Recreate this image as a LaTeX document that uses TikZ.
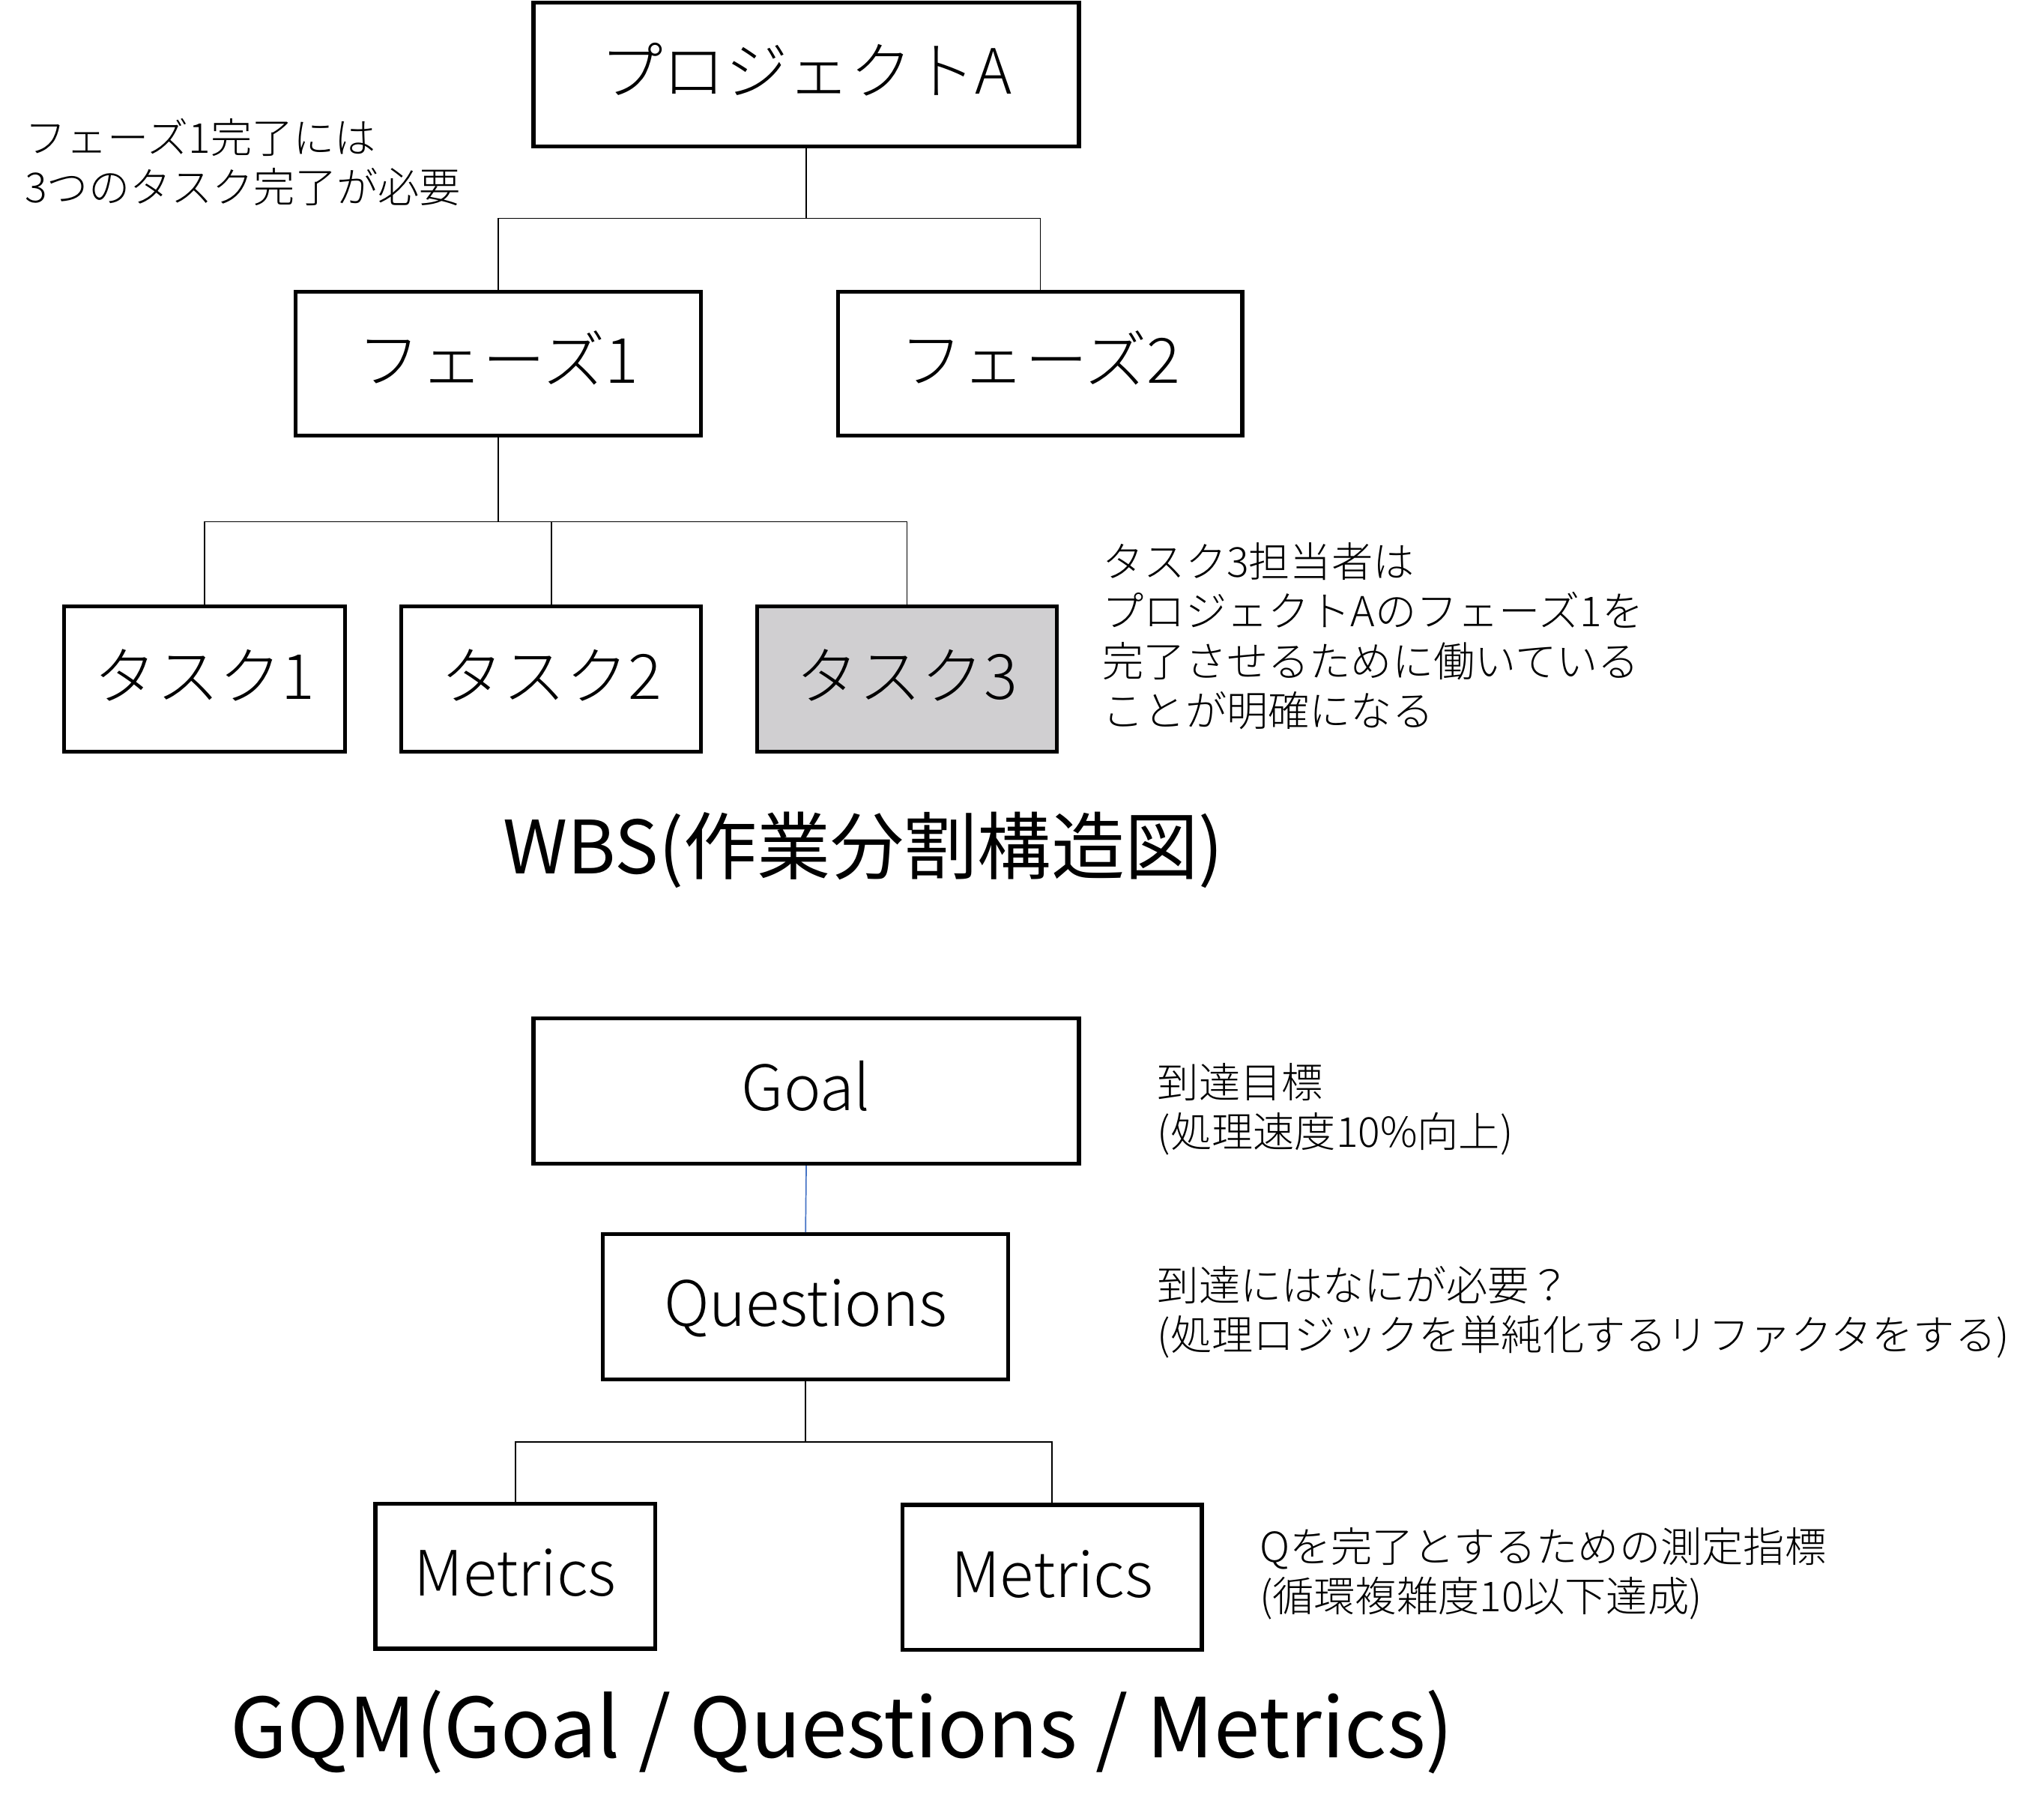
\documentclass[tikz,border=0pt]{standalone}
\usepackage{fontspec}
\setmainfont{Noto Sans CJK JP}[UprightFont=* Light]
\newfontfamily\titlefont{Noto Sans CJK JP}
\usepackage{tikz}

\definecolor{taskgray}{HTML}{D0CFD1}
\definecolor{linkblue}{HTML}{4472C4}
\newcommand{\boxfont}{\fontsize{68pt}{80pt}\selectfont}
\newcommand{\notefont}{\fontsize{45pt}{54pt}\selectfont}

\begin{document}
\begin{tikzpicture}[x=0.5mm,y=-0.5mm,
    wbsbox/.style={draw,line width=4.3pt,inner sep=0pt,minimum height=55mm,
      text height=50pt,text depth=7pt,font=\boxfont},
    notetext/.style={anchor=west,inner sep=0pt,align=left,font=\notefont},
    titletext/.style={inner sep=0pt},
    link/.style={line width=1.4pt}]
\useasboundingbox (0,0) rectangle (1563,1388.2);
% WBS
\node[wbsbox,minimum width=208.5mm] (proj) at (616.5,57) {プロジェクトA};
\node[wbsbox,minimum width=155mm] (ph1) at (381,278) {フェーズ1};
\node[wbsbox,minimum width=154.5mm] (ph2) at (795.5,278) {フェーズ2};
\node[wbsbox,minimum width=107.5mm,minimum height=55.5mm] (t1) at (156.5,519.5) {タスク1};
\node[wbsbox,minimum width=114.5mm,minimum height=55.5mm] (t2) at (421.5,519.5) {タスク2};
\node[wbsbox,minimum width=114.5mm,minimum height=55.5mm,fill=taskgray] (t3) at (693.5,519.5) {タスク3};
\coordinate (busA) at (616.5,167);
\coordinate (busB) at (381,399);
\draw[link] (proj.south) -- (busA);
\draw[link] (ph1.north) |- (busA) -| (ph2.north);
\draw[line width=2.2pt] (ph1.south) -- (busB);
\draw[link] (t1.north) |- (busB) -| (t3.north);
\draw[link] (t2.north) -- (t2.north |- busB);
\node[notetext] (noteph) at (19,124) {フェーズ1完了には\\3つのタスク完了が必要};
\node[notetext] (notetask) at (843,486.5) {タスク3担当者は\\プロジェクトAのフェーズ1を\\完了させるために働いている\\ことが明確になる};
\node[titletext,font=\titlefont\fontsize{80pt}{96pt}\selectfont] (wbstitle) at (660,650) {WBS(作業分割構造図)};
% GQM
\node[wbsbox,minimum width=208.5mm,minimum height=55.5mm] (goal) at (616.5,834.5) {Goal};
\node[wbsbox,minimum width=155mm,minimum height=55.5mm] (quest) at (616,999.5) {Questions};
\node[wbsbox,minimum width=107mm,minimum height=55.5mm] (met1) at (394,1205.5) {Metrics};
\node[wbsbox,minimum width=114.5mm,minimum height=55.5mm] (met2) at (804.5,1206.5) {Metrics};
\coordinate (busC) at (616,1103);
\draw[link,linkblue] (goal.south) -- (quest.north);
\draw[link] (quest.south) -- (busC);
\draw[link] (met1.north) |- (busC) -| (met2.north);
\node[notetext] (notegoal) at (885,848.5) {到達目標\\(処理速度10\%向上)};
\node[notetext] (notequest) at (885,1003.5) {到達にはなにが必要？\\(処理ロジックを単純化するリファクタをする)};
\node[notetext] (notemet) at (963,1203.5) {Qを完了とするための測定指標\\(循環複雑度10以下達成)};
\node[titletext,font=\titlefont\fontsize{90pt}{108pt}\selectfont] (gqmtitle) at (644,1325) {GQM(Goal / Questions / Metrics)};
\end{tikzpicture}
\end{document}
